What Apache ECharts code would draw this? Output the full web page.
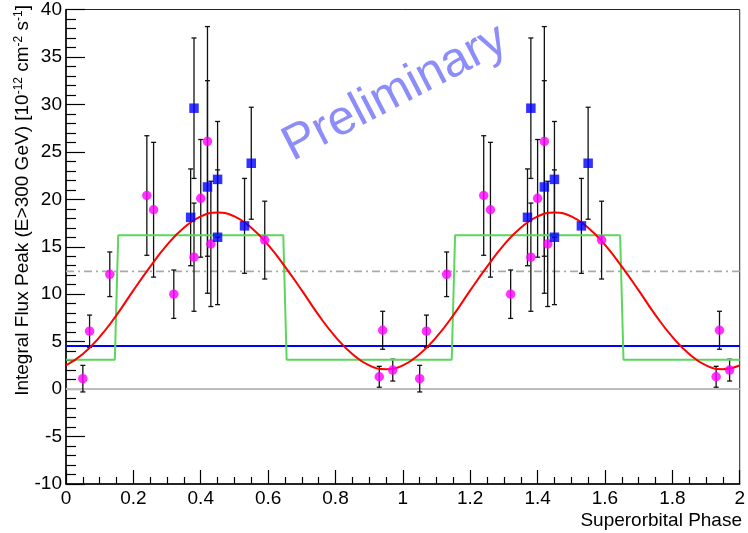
<!DOCTYPE html>
<html>
<head>
<meta charset="utf-8">
<script src="https://cdn.jsdelivr.net/npm/echarts@6/dist/echarts.min.js"></script>
<style>
html,body{margin:0;padding:0;background:#fff;}
#chart{width:748px;height:533px;}
</style>
</head>
<body>
<div id="chart"></div>
<script>
// ---- data ----
const magPhase = [0.05,0.07,0.13,0.24,0.26,0.32,0.38,0.40,0.42,0.43,0.59,0.93,0.94,0.97,
                  1.05,1.07,1.13,1.24,1.26,1.32,1.38,1.40,1.42,1.43,1.59,1.93,1.94,1.97];
const magFlux  = [1.1,6.1,12.1,20.4,18.9,10.0,13.9,20.1,26.1,15.3,15.7,1.3,6.2,2.0,
                  1.1,6.1,12.1,20.4,18.9,10.0,13.9,20.1,26.1,15.3,15.7,1.3,6.2,2.0];
const magErr   = [1.4,1.7,2.35,6.3,7.1,2.55,5.7,6.2,12.1,6.6,4.1,1.1,2.0,1.15,
                  1.4,1.7,2.35,6.3,7.1,2.55,5.7,6.2,12.1,6.6,4.1,1.1,2.0,1.15];

const bluePhase = [0.37,0.38,0.42,0.45,0.45,0.53,0.55, 1.37,1.38,1.42,1.45,1.45,1.53,1.55];
const blueFlux  = [18.1,29.6,21.3,22.1,16.0,17.2,23.8, 18.1,29.6,21.3,22.1,16.0,17.2,23.8];
const blueErr   = [5.1,7.4,11.2,6.1,7.1,5.0,5.9, 5.1,7.4,11.2,6.1,7.1,5.0,5.9];

const fitPhase = [0,0.05,0.1,0.15,0.2,0.25,0.3,0.35,0.4,0.45,0.5,0.55,0.6,0.65,0.7,0.75,0.8,0.85,0.9,0.95,
                  1,1.05,1.1,1.15,1.2,1.25,1.3,1.35,1.4,1.45,1.5,1.55,1.6,1.65,1.7,1.75,1.8,1.85,1.9,1.95,2];
const fitFlux  = [2.5,3.7,5.5,7.8,10.4,12.9,15.2,17.0,18.2,18.6,18.2,17.0,15.2,12.9,10.4,7.8,5.5,3.7,2.5,2.1,
                  2.5,3.7,5.5,7.8,10.4,12.9,15.2,17.0,18.2,18.6,18.2,17.0,15.2,12.9,10.4,7.8,5.5,3.7,2.5,2.1,2.5];

const stepPhase = [0,0.145,0.155,0.645,0.655,1.145,1.155,1.645,1.655,2.0];
const stepFlux  = [3.1,3.1,16.2,16.2,3.1,3.1,16.2,16.2,3.1,3.1];

const zeroLevel = 0;
const constLevel = 4.54;
const avgLevel = 12.4;

const xTicks = [0,0.2,0.4,0.6,0.8,1,1.2,1.4,1.6,1.8,2];
const yTicks = [-10,-5,0,5,10,15,20,25,30,35,40];

// ---- build ----
const FONT = "'Liberation Sans', Arial, Helvetica, sans-serif";
const zip = (a, b) => a.map((v, i) => [v, b[i]]);
const zip3 = (a, b, c) => a.map((v, i) => [v, b[i], c[i]]);

function errRender(params, api) {
  const x = api.value(0), y = api.value(1), e = api.value(2);
  const top = api.coord([x, y + e]);
  const bot = api.coord([x, y - e]);
  const cap = 2.5;
  const st = { stroke: '#111', lineWidth: 1.3 };
  return {
    type: 'group',
    children: [
      { type: 'line', shape: { x1: top[0], y1: top[1], x2: bot[0], y2: bot[1] }, style: st },
      { type: 'line', shape: { x1: top[0]-cap, y1: top[1], x2: top[0]+cap, y2: top[1] }, style: st },
      { type: 'line', shape: { x1: bot[0]-cap, y1: bot[1], x2: bot[0]+cap, y2: bot[1] }, style: st }
    ]
  };
}

const hline = (v) => [[xTicks[0], v], [xTicks[xTicks.length-1], v]];

const chart = echarts.init(document.getElementById('chart'), null, { renderer: 'canvas' });
chart.setOption({
  animation: false,
  backgroundColor: '#fff',
  grid: { left: 66, right: 7, top: 4, bottom: 49, show: true, borderColor: '#222', borderWidth: 1, backgroundColor: 'transparent' },
  xAxis: {
    type: 'value', min: 0, max: 2, interval: 0.2,
    axisLine: { onZero: false, lineStyle: { color: '#000', width: 1.5 } },
    axisTick: { inside: true, length: 14, lineStyle: { color: '#000', width: 1.2 } },
    minorTick: { show: true, splitNumber: 4, length: 7, lineStyle: { color: '#000', width: 1.2 } },
    splitLine: { show: false },
    axisLabel: { color: '#000', fontSize: 19, fontFamily: FONT, margin: 5,
      formatter: v => String(Math.round(v * 10) / 10) }
  },
  yAxis: {
    type: 'value', min: -10, max: 40, interval: 5,
    axisLine: { onZero: false, lineStyle: { color: '#000', width: 1.5 } },
    axisTick: { inside: true, length: 19, lineStyle: { color: '#000', width: 1.2 } },
    minorTick: { show: true, splitNumber: 5, length: 10, lineStyle: { color: '#000', width: 1.2 } },
    splitLine: { show: false },
    axisLabel: { color: '#000', fontSize: 19, fontFamily: FONT, margin: 4 }
  },
  graphic: [
    {
      type: 'text', x: 395, y: 93, rotation: 0.478, z: 0,
      style: { text: 'Preliminary', fontSize: 49, fontFamily: FONT, fill: '#8c8cfa',
        align: 'center', verticalAlign: 'middle' }
    },
    {
      type: 'text', x: 23, y: 5, rotation: Math.PI / 2,
      style: {
        text: 'Integral Flux Peak (E>300 GeV) [10{s|-12} cm{s|-2} s{s|-1}]',
        fontSize: 19, fontFamily: FONT, fill: '#000', align: 'right', verticalAlign: 'middle',
        rich: { s: { fontSize: 12, fontFamily: FONT, verticalAlign: 'top', padding: [0, 0, 8, 0] } }
      }
    },
    {
      type: 'text', x: 742, y: 521,
      style: { text: 'Superorbital Phase', fontSize: 19, fontFamily: FONT, fill: '#000',
        align: 'right', verticalAlign: 'middle' }
    }
  ],
  series: [
    { type: 'line', data: hline(zeroLevel), showSymbol: false, silent: true, z: 1,
      lineStyle: { color: '#bdbdbd', width: 2 } },
    { type: 'line', data: hline(avgLevel), showSymbol: false, silent: true, z: 1,
      lineStyle: { color: '#aaaaaa', width: 1.6, type: [8, 4, 2, 4] } },
    { type: 'line', data: hline(constLevel), showSymbol: false, silent: true, z: 2,
      lineStyle: { color: '#0000ff', width: 2 } },
    { type: 'custom', renderItem: errRender, data: zip3(magPhase, magFlux, magErr), z: 3 },
    { type: 'custom', renderItem: errRender, data: zip3(bluePhase, blueFlux, blueErr), z: 3 },
    { type: 'line', data: zip(stepPhase, stepFlux), showSymbol: false, z: 4,
      lineStyle: { color: '#5cd65c', width: 2 } },
    { type: 'line', data: zip(fitPhase, fitFlux), showSymbol: false, smooth: true, z: 4,
      lineStyle: { color: '#ff0000', width: 2 } },
    { type: 'scatter', data: zip(magPhase, magFlux), symbol: 'circle', symbolSize: 9.5, z: 5,
      itemStyle: { color: '#ff00ff' } },
    { type: 'scatter', data: zip(bluePhase, blueFlux), symbol: 'rect', symbolSize: 9.5, z: 5,
      itemStyle: { color: '#0000ff' } }
  ]
});
</script>
</body>
</html>
